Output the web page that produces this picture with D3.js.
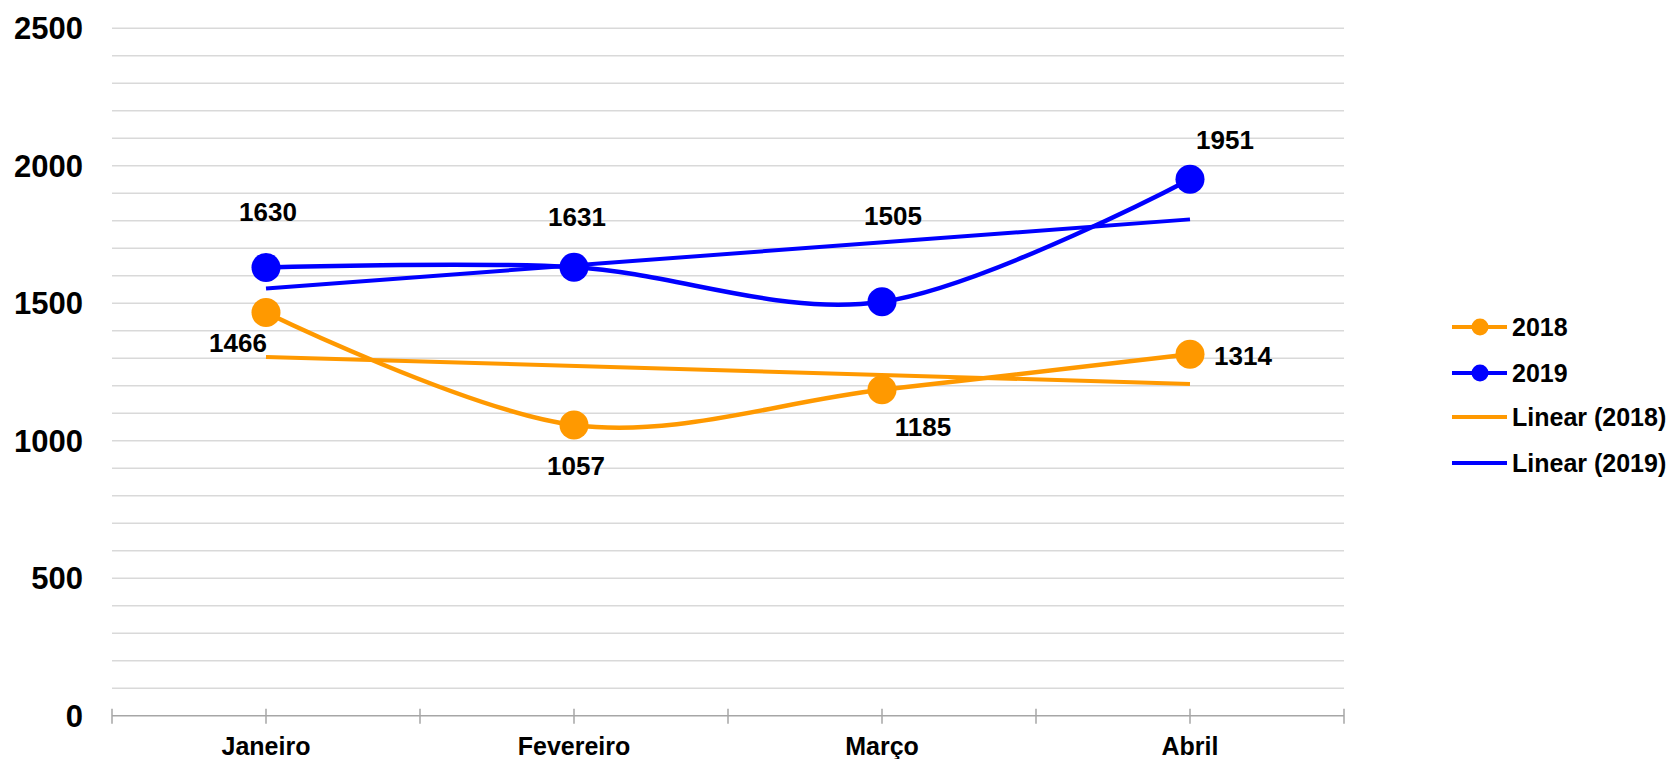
<!DOCTYPE html>
<html>
<head>
<meta charset="utf-8">
<script src="https://cdn.jsdelivr.net/npm/d3@7"></script>
<style>
  body { margin: 0; background: #fff; }
  text { font-family: "Liberation Sans", Arial, sans-serif; font-weight: bold; fill: #000; }
</style>
</head>
<body>
<svg id="chart"></svg>
<script>
const months = ["Janeiro", "Fevereiro", "Março", "Abril"];
const values2018 = [1466, 1057, 1185, 1314];
const values2019 = [1630, 1631, 1505, 1951];
const yTicks = [0, 500, 1000, 1500, 2000, 2500];
const seriesNames = ["2018", "2019"];
const legendNames = ["2018", "2019", "Linear (2018)", "Linear (2019)"];

// label offsets from the point (dx to label centre, dy to baseline)
const labelOffsets2018 = [[-28, 39], [2, 50], [41, 46], [53, 11]];
const labelOffsets2019 = [[2, -46], [3, -41], [11, -77], [35, -30]];

const width = 1673, height = 759;
const colors = { "2018": "#ff9900", "2019": "#0000ff" };

const svg = d3.select("#chart").attr("width", width).attr("height", height);

const x = d3.scaleBand().domain(months).range([112, 1344]).padding(0);
const y = d3.scaleLinear().domain([0, 2500]).range([715.7, 28.2]);
const cx = d => x(d) + x.bandwidth() / 2;

// gridlines every 100
const grid = svg.append("g");
grid.selectAll("line")
    .data(d3.range(100, 2501, 100))
    .enter().append("line")
    .attr("x1", 112).attr("x2", 1344)
    .attr("y1", d => y(d)).attr("y2", d => y(d))
    .attr("stroke", "#d9d9d9")
    .attr("stroke-width", 1.5);

// y labels
svg.append("g").selectAll("text")
    .data(yTicks)
    .enter().append("text")
    .attr("x", 83)
    .attr("y", d => y(d))
    .attr("dy", "0.35em")
    .attr("text-anchor", "end")
    .attr("font-size", 31)
    .text(d => d);

// x axis
svg.append("line")
    .attr("x1", 112).attr("x2", 1344)
    .attr("y1", y(0)).attr("y2", y(0))
    .attr("stroke", "#a6a6a6").attr("stroke-width", 1.5);

const tickPos = [];
months.forEach(m => { tickPos.push(x(m)); tickPos.push(cx(m)); });
tickPos.push(x(months[months.length - 1]) + x.bandwidth());
svg.append("g").selectAll("line")
    .data(tickPos)
    .enter().append("line")
    .attr("x1", d => d).attr("x2", d => d)
    .attr("y1", y(0) - 7).attr("y2", y(0) + 8)
    .attr("stroke", "#a6a6a6").attr("stroke-width", 1.5);

svg.append("g").selectAll("text")
    .data(months)
    .enter().append("text")
    .attr("x", d => cx(d))
    .attr("y", 755)
    .attr("text-anchor", "middle")
    .attr("font-size", 25)
    .text(d => d);

// linear trend from least squares
function trend(vals) {
    const n = vals.length;
    const xs = vals.map((v, i) => i + 1);
    const mx = d3.mean(xs), my = d3.mean(vals);
    let num = 0, den = 0;
    xs.forEach((xi, i) => { num += (xi - mx) * (vals[i] - my); den += (xi - mx) * (xi - mx); });
    const b = num / den, a = my - b * mx;
    return [a + b * 1, a + b * n];
}

const series = [
    { name: "2018", vals: values2018, offs: labelOffsets2018 },
    { name: "2019", vals: values2019, offs: labelOffsets2019 }
];

const line = d3.line()
    .x((d, i) => cx(months[i]))
    .y(d => y(d))
    .curve(d3.curveCardinal.tension(0));

// trend lines
series.forEach(s => {
    const t = trend(s.vals);
    svg.append("line")
        .attr("x1", cx(months[0])).attr("x2", cx(months[months.length - 1]))
        .attr("y1", y(t[0])).attr("y2", y(t[1]))
        .attr("stroke", colors[s.name])
        .attr("stroke-width", 4);
});

// series lines + markers
series.forEach(s => {
    svg.append("path")
        .datum(s.vals)
        .attr("d", line)
        .attr("fill", "none")
        .attr("stroke", colors[s.name])
        .attr("stroke-width", 4.5);

    svg.append("g").selectAll("circle")
        .data(s.vals)
        .enter().append("circle")
        .attr("cx", (d, i) => cx(months[i]))
        .attr("cy", d => y(d))
        .attr("r", 14.5)
        .attr("fill", colors[s.name]);
});

// data labels
series.forEach(s => {
    svg.append("g").selectAll("text")
        .data(s.vals)
        .enter().append("text")
        .attr("x", (d, i) => cx(months[i]) + s.offs[i][0])
        .attr("y", (d, i) => y(d) + s.offs[i][1])
        .attr("text-anchor", "middle")
        .attr("font-size", 26)
        .text(d => d);
});

// legend
const legendY = [327, 373, 417, 463];
const legend = svg.append("g");
legendNames.forEach((name, i) => {
    const col = colors[name.replace(/.*\(|\)/g, "")];
    const g = legend.append("g");
    g.append("line")
        .attr("x1", 1452).attr("x2", 1507)
        .attr("y1", legendY[i]).attr("y2", legendY[i])
        .attr("stroke", col).attr("stroke-width", 4);
    if (i < seriesNames.length) {
        g.append("circle")
            .attr("cx", 1480).attr("cy", legendY[i])
            .attr("r", 8.5).attr("fill", col);
    }
    g.append("text")
        .attr("x", 1512)
        .attr("y", legendY[i])
        .attr("dy", "0.35em")
        .attr("font-size", 25)
        .text(name);
});
</script>
</body>
</html>
